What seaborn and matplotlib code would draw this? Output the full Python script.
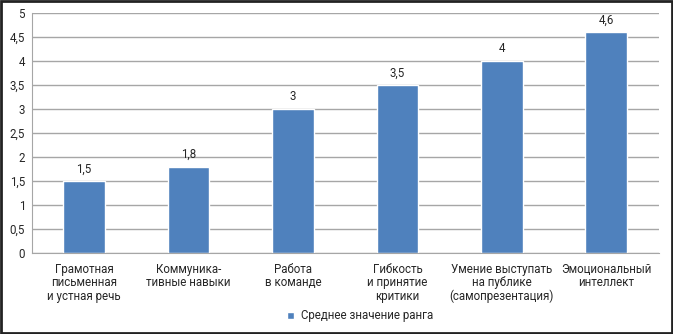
import pandas as pd
import matplotlib
matplotlib.use("Agg")
import matplotlib.pyplot as plt
import seaborn as sns
from matplotlib.patches import Rectangle

categories = ["Грамотная\nписьменная\nи устная речь",
              "Коммуника-\nтивные навыки",
              "Работа\nв команде",
              "Гибкость\nи принятие\nкритики",
              "Умение выступать\nна публике\n(самопрезентация)",
              "Эмоциональный\nинтеллект"]
values = [1.5, 1.8, 3, 3.5, 4, 4.6]
series_name = "Среднее значение ранга"
yticks = [0, 0.5, 1, 1.5, 2, 2.5, 3, 3.5, 4, 4.5, 5]

df = pd.DataFrame({"cat": categories, "val": values, "series": series_name})

sns.set_style("white")
plt.rcParams["font.family"] = ["Roboto", "DejaVu Sans"]
fs = 8.3

fig = plt.figure(figsize=(6.73, 3.34), dpi=100)
ax = fig.add_axes([0.0475, 0.2425, 0.931, 0.7185])

sns.barplot(data=df, x="cat", y="val", hue="series", palette=["#4F81BD"],
            width=0.4, saturation=1, ax=ax, legend=True)

fmt = lambda v: f"{v:g}".replace(".", ",")
for c in ax.containers:
    ax.bar_label(c, labels=[fmt(v) for v in values], padding=4, fontsize=fs)

ax.set_ylim(0, 5)
ax.set_yticks(yticks)
ax.set_yticklabels([fmt(t) for t in yticks], fontsize=fs)
ax.set_xlim(-0.5, len(categories) - 0.5)
ax.tick_params(axis="x", labelsize=fs, length=0, pad=7)
ax.tick_params(axis="y", length=0, pad=5)
ax.set_xlabel("")
ax.set_ylabel("")
ax.yaxis.grid(True, color="#a6a6a6", linewidth=1)
ax.set_axisbelow(True)
for s in ["top", "right"]:
    ax.spines[s].set_visible(False)
ax.spines["left"].set_color("#a6a6a6")
ax.spines["bottom"].set_color("#a6a6a6")
for lbl in ax.get_xticklabels():
    lbl.set_linespacing(1.05)

ax.legend(loc="center", bbox_to_anchor=(0.535, 0.054), bbox_transform=fig.transFigure,
          frameon=False, fontsize=fs, handlelength=0.6, handleheight=0.6,
          handletextpad=0.6)

fig.patches.append(Rectangle((0.002, 0.003), 0.996, 0.994, transform=fig.transFigure,
                             fill=False, edgecolor="#222222", linewidth=2))

fig.savefig("out.png", dpi=100)
